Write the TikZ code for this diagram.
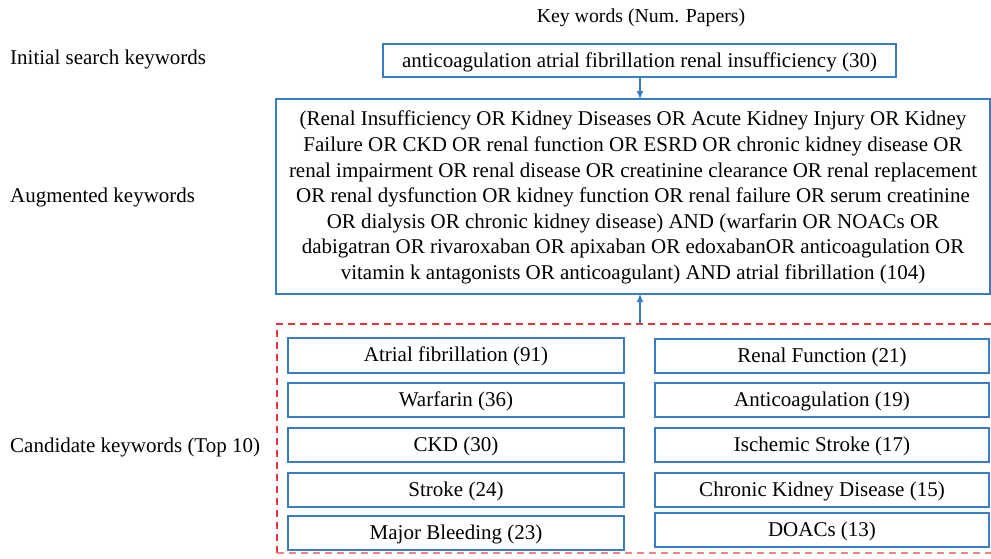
\documentclass[tikz,border=0pt]{standalone}
\usepackage{fontspec}
\setmainfont{Liberation Serif}
\usetikzlibrary{arrows.meta}
\definecolor{bblue}{HTML}{3A7DC4}
\definecolor{dred}{HTML}{E8333A}
\begin{document}
\begin{tikzpicture}[x=1pt,y=-1pt,
  txt/.style={font=\fontsize{21}{24}\selectfont, inner sep=0pt},
  lbl/.style={txt, anchor=west},
  kbox/.style={draw=bblue, line width=1.2pt, txt},
  arr/.style={draw=bblue, line width=1.1pt, -{Latex[length=8pt,width=7pt]}}]
\useasboundingbox (0,0) rectangle (991,558);
\node[txt, font=\fontsize{19.8}{22}\selectfont] (head) at (641,18) {Key words (Num. Papers)};
\node[lbl] (l1) at (10,59) {Initial search keywords};
\node[lbl] (l2) at (10,197) {Augmented keywords};
\node[lbl] (l3) at (10,447) {Candidate keywords (Top 10)};
% top box
\draw[kbox] (383,44) rectangle (896,77);
\node[txt] (top) at (639.5,62) {anticoagulation atrial fibrillation renal insufficiency (30)};
\coordinate (topS) at (640,77);
% big box
\draw[kbox] (276,99) rectangle (990,294);
\coordinate (bigN) at (640,99);
\coordinate (bigS) at (640,294);
\node[txt, align=center, font=\fontsize{21}{25.6}\selectfont] (aug) at (633,197.5) {(Renal Insufficiency OR Kidney Diseases OR Acute Kidney Injury OR Kidney\\
Failure OR CKD OR renal function OR ESRD OR chronic kidney disease OR\\
renal impairment OR renal disease OR creatinine clearance OR renal replacement\\
OR renal dysfunction OR kidney function OR renal failure OR serum creatinine\\
OR dialysis OR chronic kidney disease) AND (warfarin OR NOACs OR\\
dabigatran OR rivaroxaban OR apixaban OR edoxabanOR anticoagulation OR\\
vitamin k antagonists OR anticoagulant) AND atrial fibrillation (104)};
\draw[arr] (topS) -- (bigN);
% dashed region
\draw[dred, line width=1.1pt, dash pattern=on 7pt off 5pt] (277,553) -- (277,324) -- (991,324);
\draw[dred!60, line width=1.1pt, dash pattern=on 7pt off 5pt] (277,553) -- (991,553);
\coordinate (dashN) at (640,324);
\draw[arr] (dashN) -- (bigS);
% candidate boxes
\foreach \name/\t/\b/\lab in {a/338/373/{Atrial fibrillation (91)}, b/383/417/{Warfarin (36)}, c/428/462/{CKD (30)}, d/473/507/{Stroke (24)}, e/516/550/{Major Bleeding (23)}}{
  \draw[kbox] (288,\t) rectangle (624,\b);
  \node[txt] (\name) at (456,{(\t+\b)/2+1}) {\lab};
}
\foreach \name/\t/\b/\lab in {f/339/373/{Renal Function (21)}, g/383/417/{Anticoagulation (19)}, h/428/462/{Ischemic Stroke (17)}, i/473/507/{Chronic Kidney Disease (15)}, j/513/547/{DOACs (13)}}{
  \draw[kbox] (655,\t) rectangle (989,\b);
  \node[txt] (\name) at (822,{(\t+\b)/2+1}) {\lab};
}
\end{tikzpicture}
\end{document}
